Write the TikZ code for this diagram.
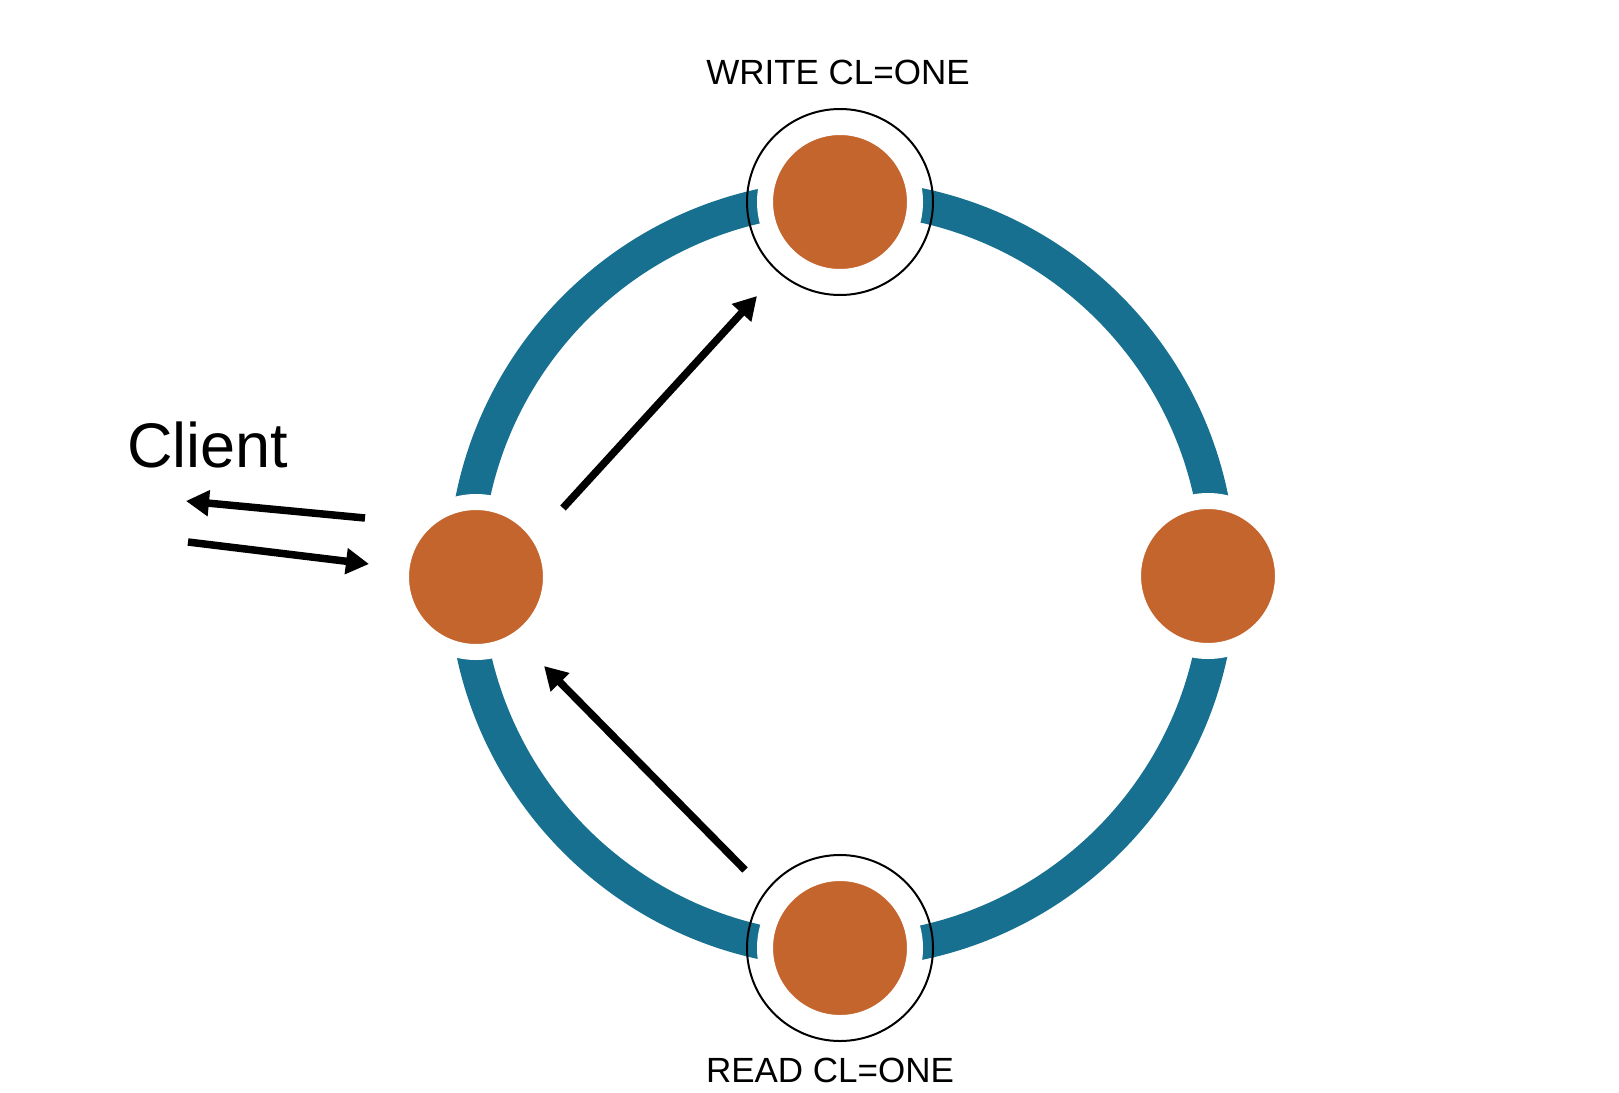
\documentclass[tikz,border=0pt]{standalone}
\usepackage{fontspec}
\setmainfont{Liberation Sans}
\usetikzlibrary{arrows.meta}
\definecolor{ringteal}{HTML}{17708F}
\definecolor{nodeorange}{HTML}{C4652D}
\begin{document}
\begin{tikzpicture}[x=1pt,y=-1pt,
  ringline/.style={draw=ringteal,line width=34pt},
  dbnode/.style={circle,fill=nodeorange,draw=white,line width=16pt,minimum size=150pt,inner sep=0pt},
  halo/.style={circle,draw=black,line width=2pt,minimum size=186pt,inner sep=0pt},
  arr/.style={draw=black,line width=7.5pt,-{Triangle[length=23pt,width=25pt]}},
  lbl/.style={inner sep=0pt,font=\fontsize{35}{40}\selectfont}
]
\useasboundingbox[fill=white] (0,0) rectangle (1619,1092);
% ring
\draw[ringline] (842,574) circle [radius=377];
% nodes
\node[dbnode] (left) at (476,577) {};
\node[dbnode] (right) at (1208,576) {};
\node[dbnode] (top) at (840,202) {};
\node[dbnode] (bottom) at (840,948) {};
\node[halo] (tophalo) at (840,202) {};
\node[halo] (bottomhalo) at (840,948) {};
% labels
\node[lbl,anchor=base] (wlabel) at (838,84) {WRITE CL=ONE};
\node[lbl,anchor=base] (rlabel) at (830,1082) {READ CL=ONE};
\node[inner sep=0pt,anchor=base west,font=\fontsize{63}{72}\selectfont] (client) at (127,467) {Client};
% arrow coordinates
\coordinate (w1) at (563,508);
\coordinate (w2) at (757,296);
\coordinate (r1) at (745,870);
\coordinate (r2) at (544,666);
\coordinate (c1) at (365,518);
\coordinate (c2) at (186,501);
\coordinate (c3) at (188,542);
\coordinate (c4) at (369,564);
\draw[arr] (w1) -- (w2);
\draw[arr] (r1) -- (r2);
\draw[arr] (c1) -- (c2);
\draw[arr] (c3) -- (c4);
\end{tikzpicture}
\end{document}
